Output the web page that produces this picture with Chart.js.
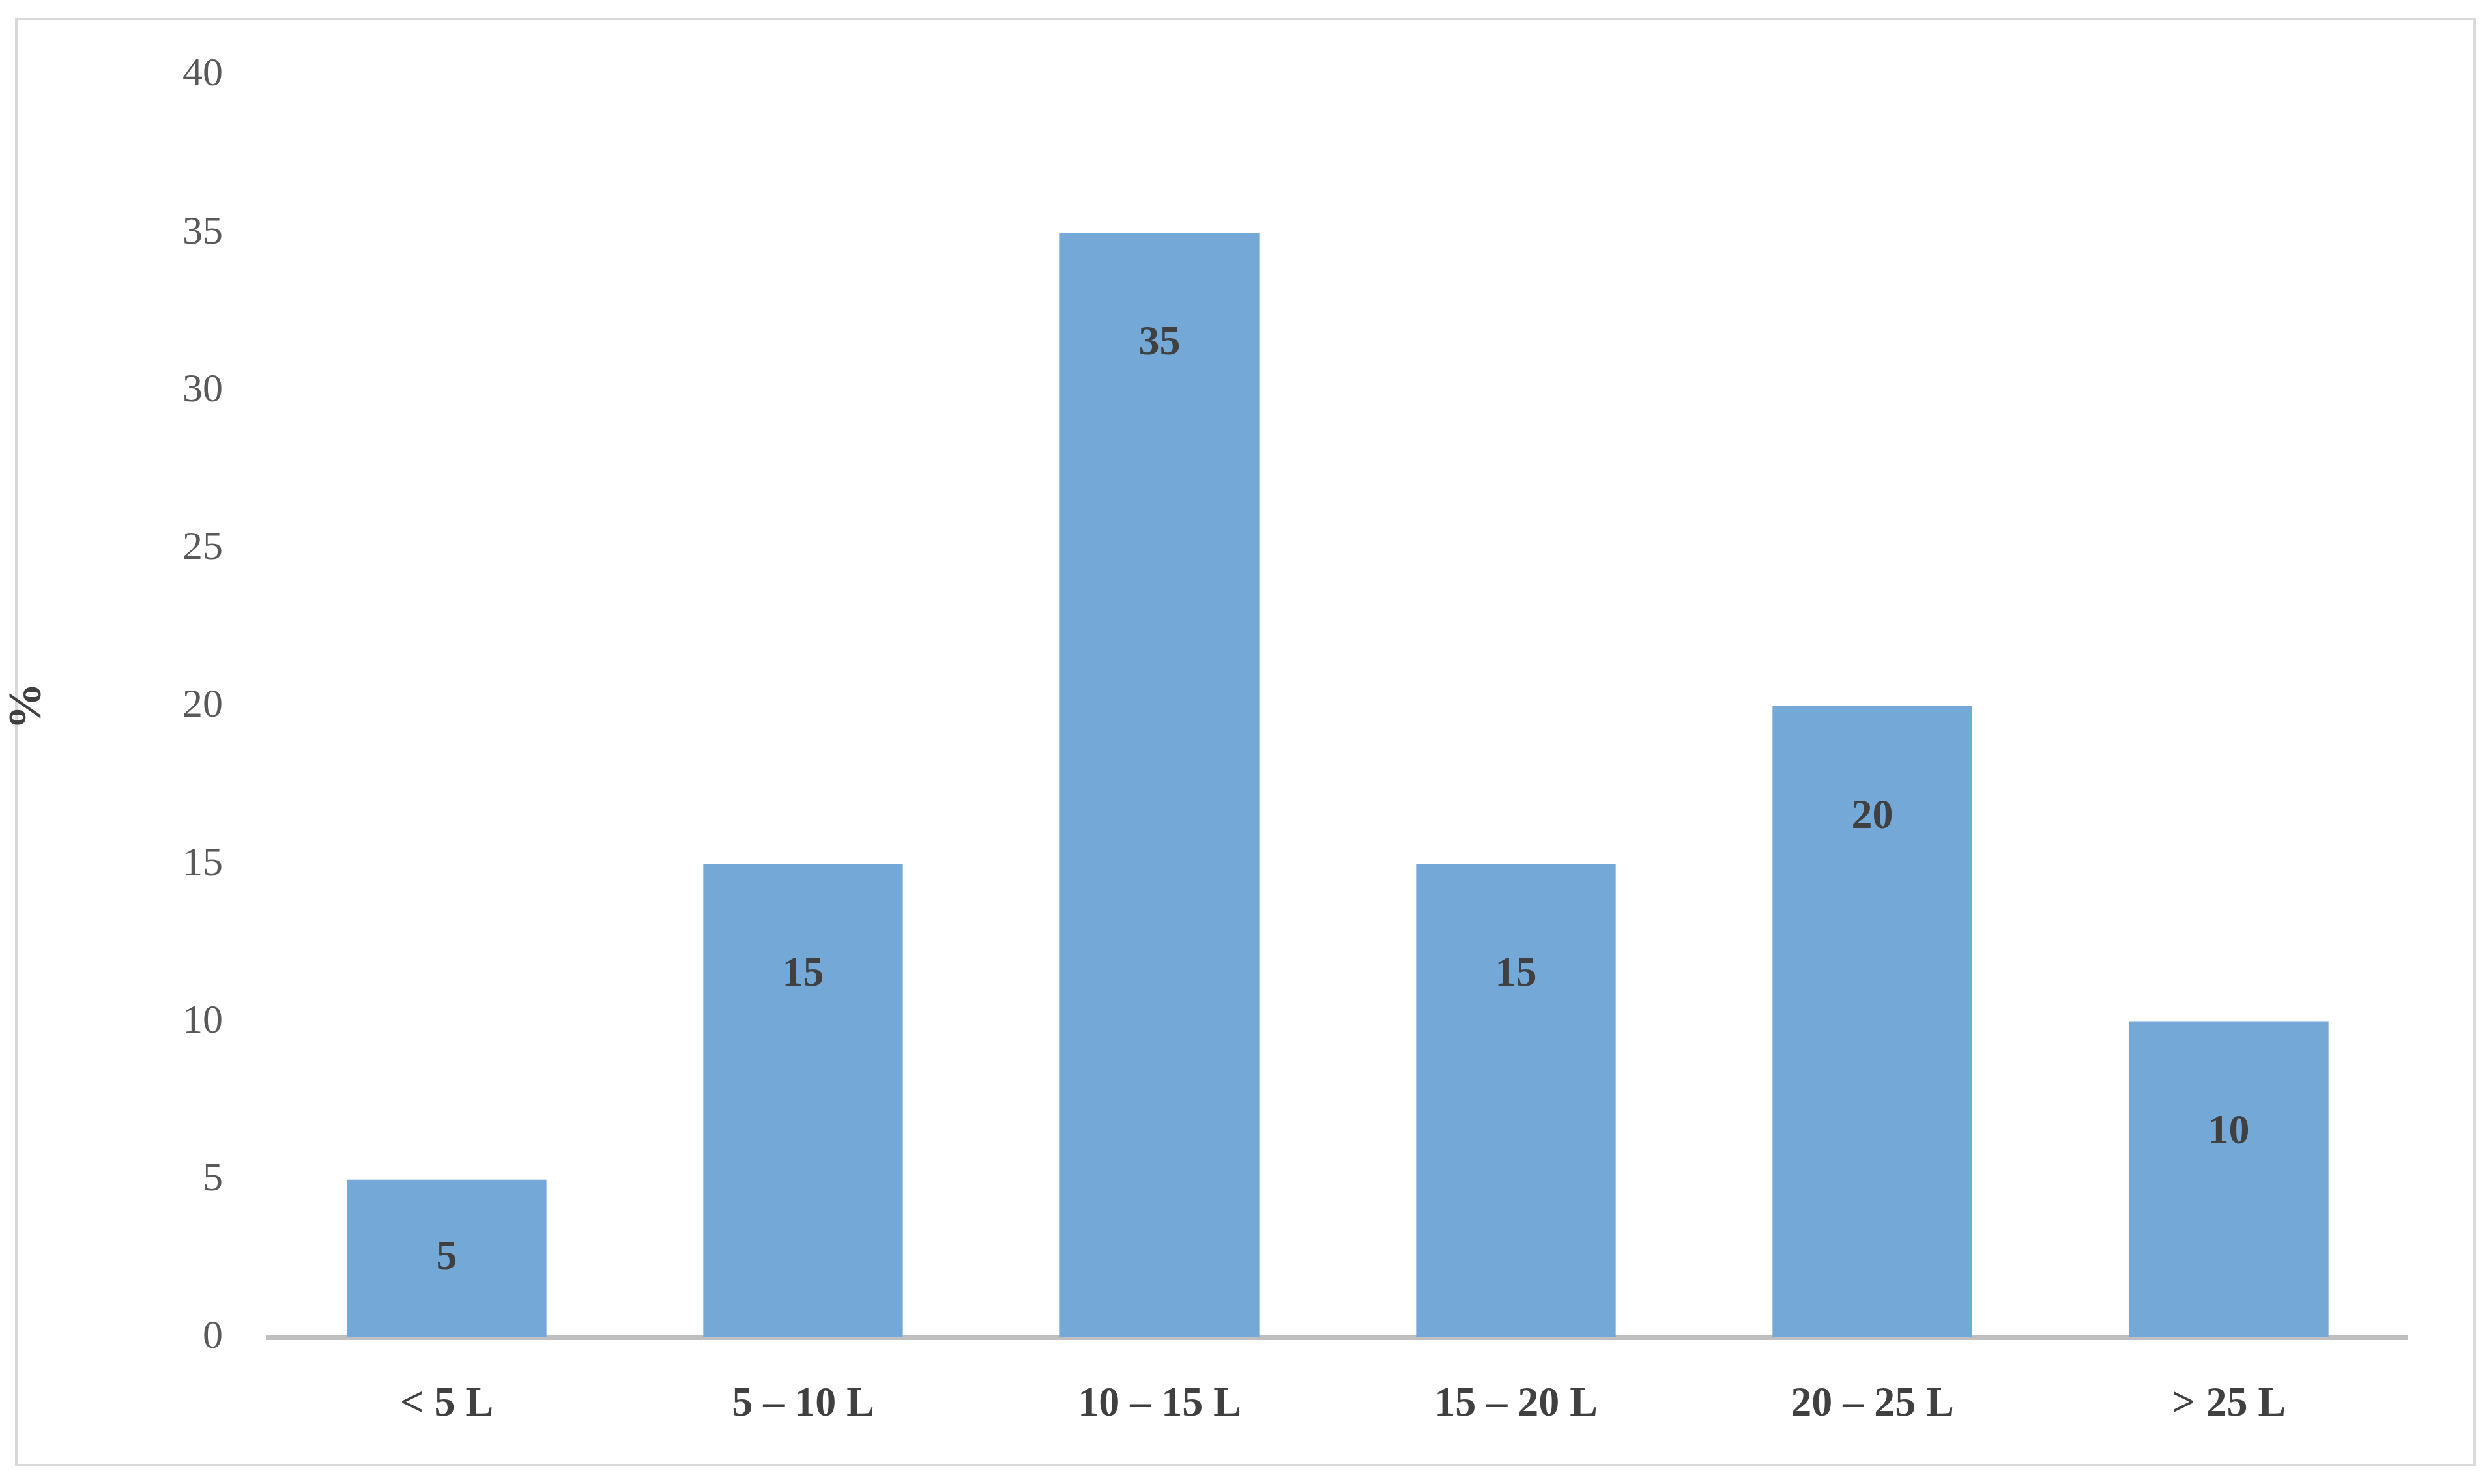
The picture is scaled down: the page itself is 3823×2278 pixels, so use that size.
<!DOCTYPE html>
<html>
<head>
<meta charset="utf-8">
<script src="https://cdn.jsdelivr.net/npm/chart.js@4"></script>
<style>
  body { margin: 0; background: #fff; }
  #wrap { width: 3823px; height: 2278px; }
</style>
</head>
<body>
<div id="wrap"><canvas id="myChart" width="3823" height="2278"></canvas></div>
<script>
const categories = ["< 5 L", "5 – 10 L", "10 – 15 L", "15 – 20 L", "20 – 25 L", "> 25 L"];
const percents = [5, 15, 35, 15, 20, 10];
const yTicks = [0, 5, 10, 15, 20, 25, 30, 35, 40];

const serif = "'Liberation Serif', 'Times New Roman', serif";

// outer frame of the figure
const framePlugin = {
  id: "frame",
  beforeDraw(chart) {
    const c = chart.ctx;
    c.save();
    c.fillStyle = "#fff";
    c.fillRect(0, 0, chart.width, chart.height);
    c.strokeStyle = "#d9d9d9";
    c.lineWidth = 4;
    c.strokeRect(25, 29, 3773, 2220);
    c.restore();
  }
};

// value labels inside the bars
const valuePlugin = {
  id: "values",
  afterDatasetsDraw(chart) {
    const c = chart.ctx;
    const meta = chart.getDatasetMeta(0);
    c.save();
    c.font = "bold 64px " + serif;
    c.fillStyle = "#404040";
    c.textAlign = "center";
    c.textBaseline = "middle";
    meta.data.forEach(function (bar, i) {
      const y = Math.min(bar.y + 170, (bar.y + bar.base) / 2);
      c.fillText(percents[i], bar.x, y);
    });
    c.restore();
  }
};

const ctx = document.getElementById("myChart").getContext("2d");
new Chart(ctx, {
  type: "bar",
  data: {
    labels: categories,
    datasets: [{
      data: percents,
      backgroundColor: "#74a8d6",
      categoryPercentage: 1,
      barPercentage: 0.56
    }]
  },
  options: {
    responsive: false,
    animation: false,
    devicePixelRatio: 1,
    layout: { padding: { top: 115, right: 129, left: 0, bottom: 0 } },
    plugins: { legend: { display: false }, tooltip: { enabled: false } },
    scales: {
      x: {
        grid: { display: false, drawTicks: false },
        border: { display: true, color: "#bfbfbf", width: 7 },
        ticks: { color: "#404040", padding: 65, font: { family: serif, size: 64, weight: "bold" } },
        afterFit(scale) { scale.height = 225; }
      },
      y: {
        min: 0,
        max: 40,
        afterBuildTicks(scale) { scale.ticks = yTicks.map(v => ({ value: v })); },
        grid: { display: false, drawTicks: false },
        border: { display: false },
        ticks: { color: "#595959", padding: 70, font: { family: serif, size: 62 } },
        title: { display: true, text: "%", color: "#404040", padding: 0, font: { family: serif, size: 72, weight: "bold" } },
        afterFit(scale) { scale.width = 412; }
      }
    }
  },
  plugins: [framePlugin, valuePlugin]
});
</script>
</body>
</html>
